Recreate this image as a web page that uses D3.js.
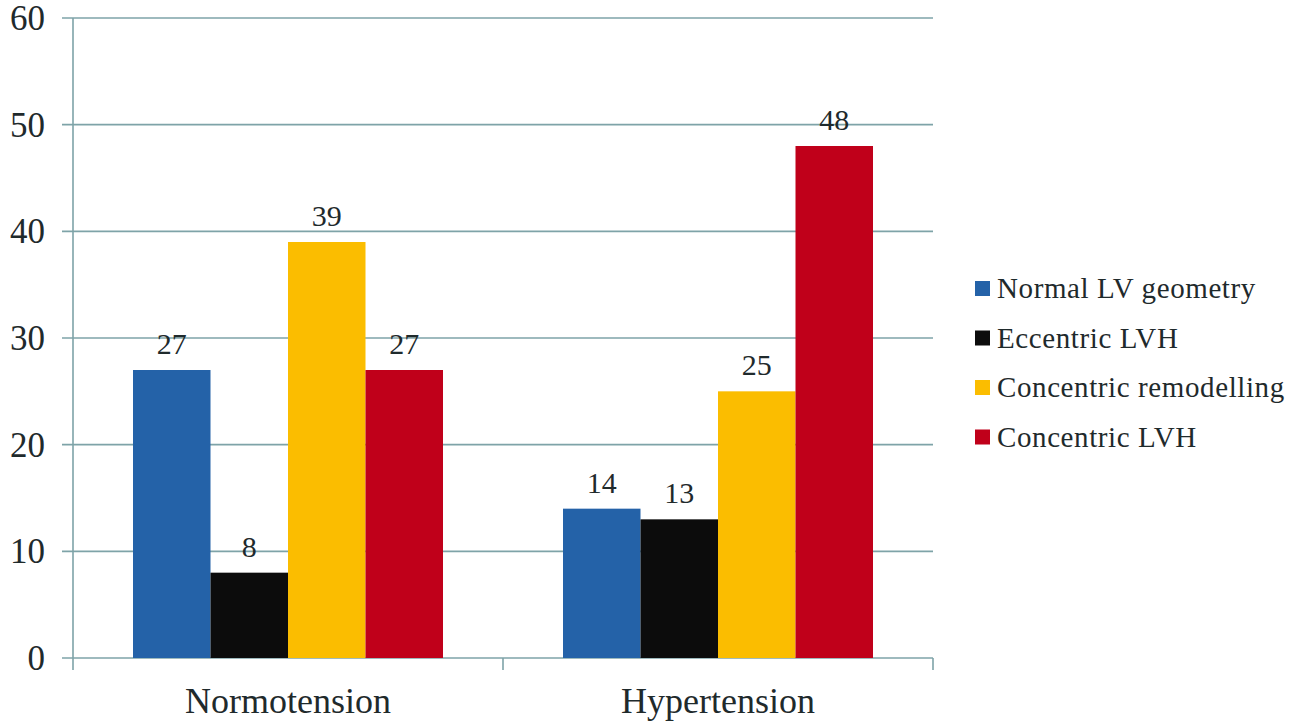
<!DOCTYPE html>
<html>
<head>
<meta charset="utf-8">
<script src="https://cdn.jsdelivr.net/npm/d3@7"></script>
<style>
  html, body { margin: 0; padding: 0; background: #fff; }
  svg { display: block; }
</style>
</head>
<body>
<svg id="chart" width="1294" height="722" font-family="Liberation Serif"></svg>
<script>
const categories = ["Normotension", "Hypertension"];
const seriesNames = ["Normal LV geometry", "Eccentric LVH", "Concentric remodelling", "Concentric LVH"];
const normotension = [27, 8, 39, 27];
const hypertension = [14, 13, 25, 48];
const yTicks = [0, 10, 20, 30, 40, 50, 60];
const colors = ["#2462A8", "#0c0c0c", "#FBBD00", "#C0001A"];

const values = [normotension, hypertension];
const FONT = "Liberation Serif";
const svg = d3.select("#chart");

const plotLeft = 73, plotRight = 933, plotTop = 18, plotBottom = 658;

const x0 = d3.scaleBand().domain(categories).range([plotLeft, plotRight]).padding(0);
const x1 = d3.scaleBand().domain(seriesNames)
  .range([60, x0.bandwidth() - 60]).padding(0);
const y = d3.scaleLinear().domain([0, 60]).range([plotBottom, plotTop]);

const gridColor = "#7ea3a8";
const textColor = "#1f2a2c";

// gridlines
svg.append("g").selectAll("line").data(yTicks).join("line")
  .attr("x1", plotLeft - 11).attr("x2", plotRight)
  .attr("y1", d => y(d)).attr("y2", d => y(d))
  .attr("stroke", gridColor).attr("stroke-width", 1.6);

// y axis line
svg.append("line").attr("x1", plotLeft).attr("x2", plotLeft)
  .attr("y1", plotTop).attr("y2", plotBottom + 12)
  .attr("stroke", gridColor).attr("stroke-width", 1.6);

// x category ticks
const xb = [x0(categories[1]), plotRight];
svg.append("g").selectAll("line").data(xb).join("line")
  .attr("x1", d => d).attr("x2", d => d)
  .attr("y1", plotBottom).attr("y2", plotBottom + 12)
  .attr("stroke", gridColor).attr("stroke-width", 1.6);

// y tick labels
svg.append("g").selectAll("text").data(yTicks).join("text")
  .attr("x", 45).attr("y", d => y(d) + 12)
  .attr("text-anchor", "end")
  .attr("font-family", FONT)
  .attr("font-size", 35).attr("fill", textColor)
  .text(d => d);

// bars
const groups = svg.append("g").selectAll("g").data(categories).join("g")
  .attr("transform", c => `translate(${x0(c)},0)`);

groups.selectAll("rect").data((c, i) => values[i].map((v, j) => ({v, s: seriesNames[j], j})))
  .join("rect")
  .attr("x", d => x1(d.s))
  .attr("width", x1.bandwidth())
  .attr("y", d => y(d.v))
  .attr("height", d => y(0) - y(d.v))
  .attr("fill", d => colors[d.j]);

groups.selectAll("text.lbl").data((c, i) => values[i].map((v, j) => ({v, s: seriesNames[j], j})))
  .join("text").attr("class", "lbl")
  .attr("x", d => x1(d.s) + x1.bandwidth() / 2)
  .attr("y", d => y(d.v) - 16)
  .attr("text-anchor", "middle")
  .attr("font-family", FONT)
  .attr("font-size", 30).attr("fill", textColor)
  .text(d => d.v);

// category labels
svg.append("g").selectAll("text").data(categories).join("text")
  .attr("x", c => x0(c) + x0.bandwidth() / 2)
  .attr("y", 713)
  .attr("text-anchor", "middle")
  .attr("font-family", FONT)
  .attr("font-size", 36).attr("fill", textColor)
  .text(c => c);

// legend
const legend = svg.append("g").selectAll("g").data(seriesNames).join("g")
  .attr("transform", (d, i) => `translate(975, ${288 + i * 49.5})`);
legend.append("rect").attr("x", 0).attr("y", -7).attr("width", 15).attr("height", 15)
  .attr("fill", (d, i) => colors[i]);
legend.append("text").attr("x", 22).attr("y", 10)
  .attr("font-family", FONT)
  .attr("font-size", 29).attr("fill", textColor)
  .attr("letter-spacing", 0.6)
  .text(d => d);
</script>
</body>
</html>
